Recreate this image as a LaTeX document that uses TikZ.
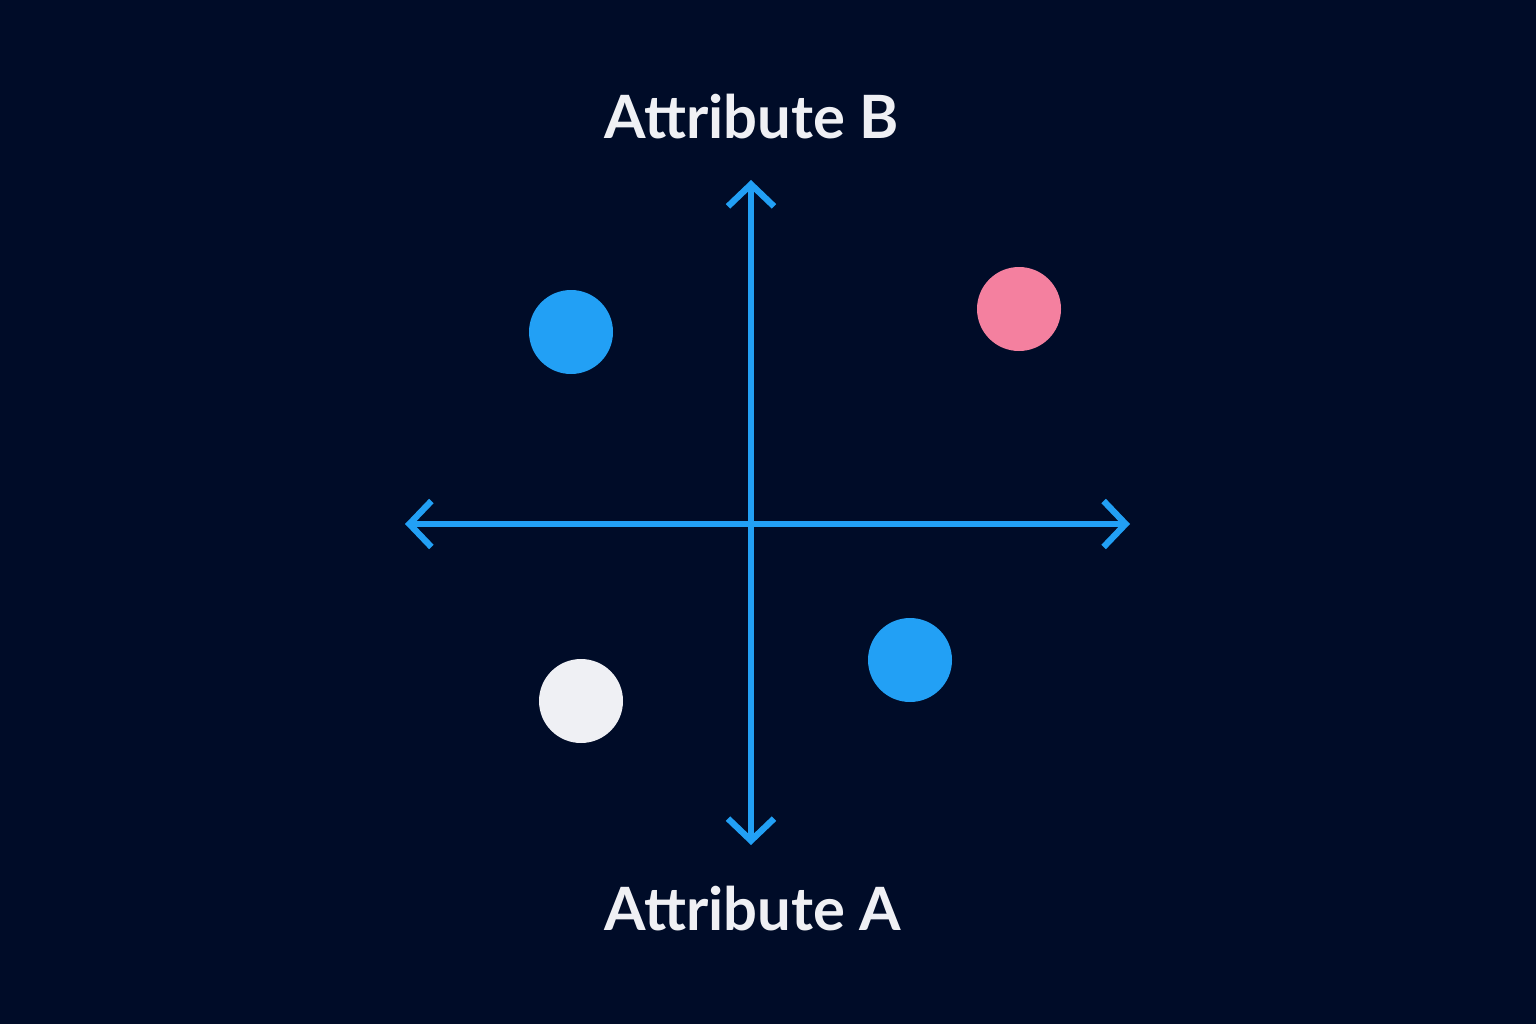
\documentclass[tikz,border=0pt]{standalone}
\usepackage{fontspec}
\setmainfont{Lato}
\usetikzlibrary{arrows.meta}
\definecolor{bgnavy}{HTML}{000C28}
\definecolor{axisblue}{HTML}{22A0F5}
\definecolor{dotpink}{HTML}{F4809F}
\definecolor{dotwhite}{HTML}{EFF0F4}
\tikzset{
    axis/.style={line width=1.8pt, axisblue, line cap=round, {Straight Barb[length=2.2mm,width=4.6mm,line width=1.8pt]}-{Straight Barb[length=2.2mm,width=4.6mm,line width=1.8pt]}},
    dot/.style={circle, minimum size=0.84cm, inner sep=0pt},
    axislabel/.style={text=dotwhite, font=\fontsize{17}{20}\selectfont\bfseries}
}
\begin{document}
\begin{tikzpicture}

    \fill[bgnavy] (0,0) rectangle (15.36,10.24);
    \useasboundingbox (0,0) rectangle (15.36,10.24);

    \coordinate (west) at (4.05,5.00);
    \coordinate (east) at (11.30,5.00);
    \coordinate (north) at (7.51,8.44);
    \coordinate (south) at (7.51,1.79);

    \draw[axis] (west) -- (east);
    \draw[axis] (south) -- (north);

    \node[axislabel] (labelB) at (7.52,9.07) {Attribute B};
    \node[axislabel] (labelA) at (7.53,1.15) {Attribute A};

    \node[dot, fill=axisblue] (dotNW) at (5.71,6.92) {};
    \node[dot, fill=dotpink] (dotNE) at (10.19,7.15) {};
    \node[dot, fill=axisblue] (dotSE) at (9.10,3.64) {};
    \node[dot, fill=dotwhite] (dotSW) at (5.81,3.23) {};

\end{tikzpicture}
\end{document}
